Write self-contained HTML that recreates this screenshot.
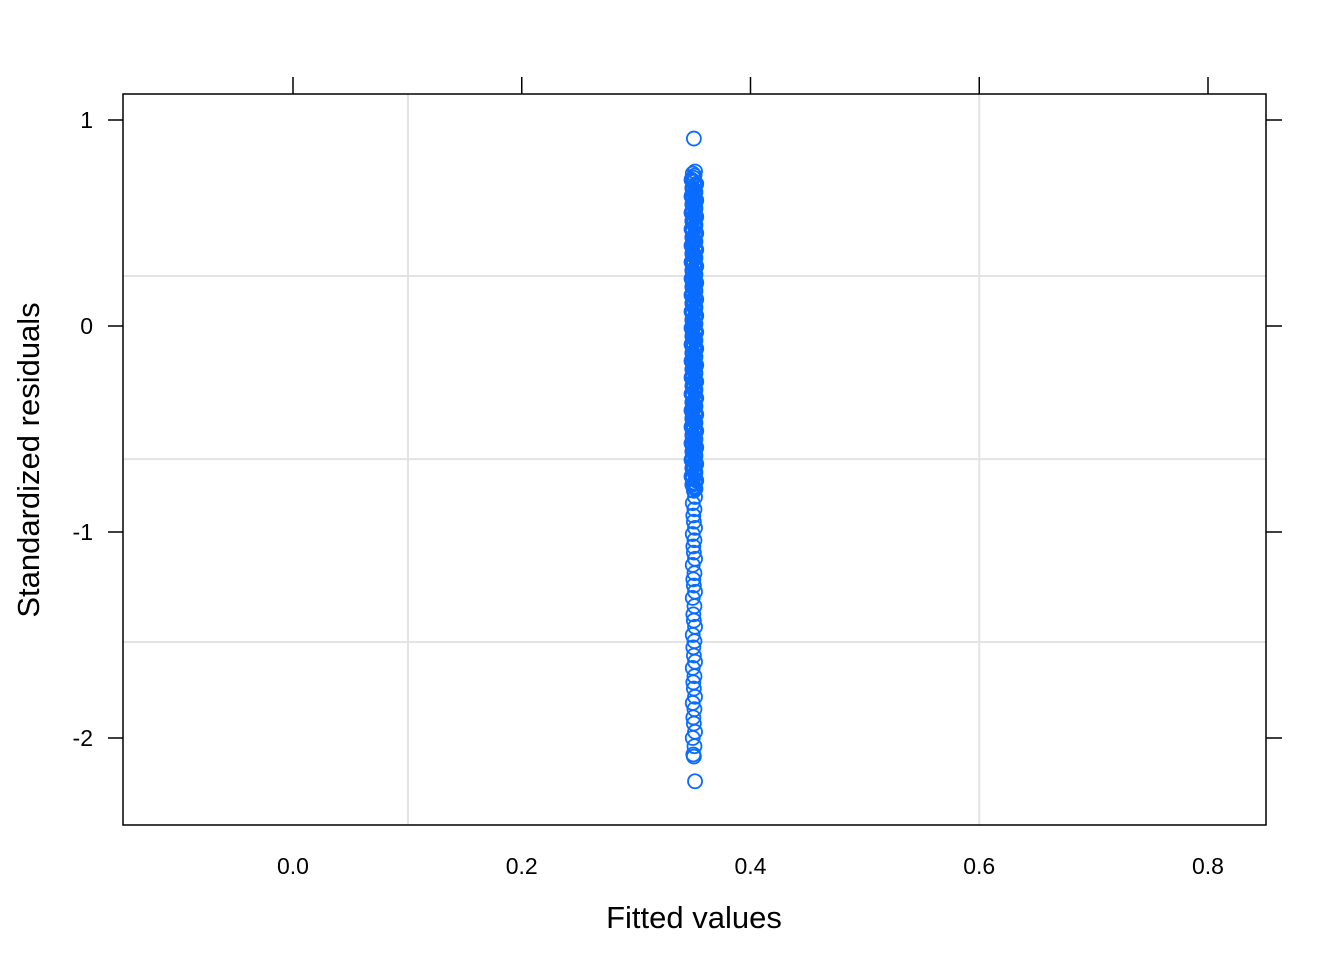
<!DOCTYPE html>
<html><head><meta charset="utf-8"><style>
html,body{margin:0;padding:0;background:#fff;}
svg{display:block;font-family:"Liberation Sans",Arial,sans-serif;}
</style></head><body>
<svg id="chart" width="1344" height="960" viewBox="0 0 1344 960" xmlns="http://www.w3.org/2000/svg">
<g id="grid"></g>
<g id="points"></g>
<rect x="123" y="94" width="1143" height="731" fill="none" stroke="#000" stroke-width="1.5"/>
<g id="axes"></g>
<text x="694" y="928" font-size="31" text-anchor="middle">Fitted values</text>
<text transform="translate(39,460) rotate(-90)" font-size="31" text-anchor="middle">Standardized residuals</text>
</svg>
<script>
const xTicks = [0.0, 0.2, 0.4, 0.6, 0.8];
const xTickLabels = ["0.0", "0.2", "0.4", "0.6", "0.8"];
const yTicks = [1, 0, -1, -2];
const yTickLabels = ["1", "0", "-1", "-2"];
const xGrid = [0.1005, 0.6];
const yGrid = [0.243, -0.646, -1.534];
const fitted = [0.3505, 0.3515, 0.3495, 0.351, 0.350];
const residuals = [0.91,
0.75,0.74,0.73,0.72,0.70,0.68,0.66,0.64,0.62,0.60,0.58,0.56,0.54,0.52,0.50,0.48,0.46,0.44,0.42,0.40,
0.38,0.36,0.34,0.32,0.30,0.28,0.26,0.24,0.22,0.20,0.18,0.16,0.14,0.12,0.10,0.08,0.06,0.04,0.02,0.00,
-0.02,-0.04,-0.06,-0.08,-0.10,-0.12,-0.14,-0.16,-0.18,-0.20,-0.22,-0.24,-0.26,-0.28,-0.30,-0.32,-0.34,
-0.36,-0.38,-0.40,-0.42,-0.44,-0.46,-0.48,-0.50,-0.52,-0.54,-0.56,-0.58,-0.60,-0.62,-0.64,-0.66,-0.68,
-0.70,-0.72,-0.74,-0.76,-0.78,-0.80,-0.83,-0.86,-0.89,-0.92,-0.95,-0.98,-1.01,-1.04,-1.07,-1.10,-1.13,
-1.16,-1.20,-1.23,-1.26,-1.29,-1.32,-1.36,-1.40,-1.43,-1.46,-1.50,-1.53,-1.56,-1.60,-1.63,-1.66,-1.70,
-1.73,-1.76,-1.80,-1.83,-1.86,-1.90,-1.93,-1.97,-2.00,-2.04,-2.08,-2.09,-2.21];
const residualsDense = [0.71,0.69,0.67,0.65,0.63,0.61,0.59,0.57,0.55,0.53,0.51,0.49,0.47,0.45,0.43,0.41,
0.39,0.37,0.35,0.33,0.31,0.29,0.27,0.25,0.23,0.21,0.19,0.17,0.15,0.13,0.11,0.09,0.07,0.05,0.03,0.01,
-0.01,-0.03,-0.05,-0.07,-0.09,-0.11,-0.13,-0.15,-0.17,-0.19,-0.21,-0.23,-0.25,-0.27,-0.29,-0.31,-0.33,
-0.35,-0.37,-0.39,-0.41,-0.43,-0.45,-0.47,-0.49,-0.51,-0.53,-0.55,-0.57,-0.59,-0.61,-0.63,-0.65,-0.67,
-0.69,-0.71,-0.73,-0.75,-0.77,-0.79];
const fittedDense = [0.3485, 0.3525, 0.3492, 0.3518];
const X0 = 293, XS = 1143.75, Y0 = 326, YS = 206;
const L = 123, R = 1266, T = 94, B = 825;
function sx(v){ return X0 + v * XS; }
function sy(v){ return Y0 - v * YS; }
const NS = "http://www.w3.org/2000/svg";
function mk(tag, attrs, parent){ const e = document.createElementNS(NS, tag); for (const k in attrs) e.setAttribute(k, attrs[k]); parent.appendChild(e); return e; }
const grid = document.getElementById('grid');
xGrid.forEach(v => {
  const l = mk('line', {x1: sx(v), x2: sx(v), y1: T, y2: B, stroke: '#e3e3e3', 'stroke-width': 2}, grid);
  
  
});
yGrid.forEach(v => {
  const l = mk('line', {x1: L, x2: R, y1: sy(v), y2: sy(v), stroke: '#e3e3e3', 'stroke-width': 2}, grid);
  
  
});
const axes = document.getElementById('axes');
xTicks.forEach((v, i) => {
  const t = mk('line', {x1: sx(v), x2: sx(v), y1: 77, y2: T, stroke: '#000', 'stroke-width': 1.5}, axes);
  
  
  const tx = mk('text', {x: sx(v), y: 874, 'font-size': 23, 'text-anchor': 'middle'}, axes);
  tx.textContent = xTickLabels[i];
  
  
});
yTicks.forEach((v, i) => {
  const t1 = mk('line', {x1: 108, x2: L, y1: sy(v), y2: sy(v), stroke: '#000', 'stroke-width': 1.5}, axes);
  
  
  const t2 = mk('line', {x1: R, x2: 1282, y1: sy(v), y2: sy(v), stroke: '#000', 'stroke-width': 1.5}, axes);
  
  
  const tx = mk('text', {x: 93, y: sy(v) + 8, 'font-size': 23, 'text-anchor': 'end'}, axes);
  tx.textContent = yTickLabels[i];
  
  
});
const pts = document.getElementById('points');
residuals.forEach((r, i) => {
  const c = mk('circle', {cx: sx(fitted[i % fitted.length]), cy: sy(r), r: 7, fill: 'none', stroke: '#0a6cff', 'stroke-width': 1.8}, pts);
  
  
});
residualsDense.forEach((r, i) => {
  const c = mk('circle', {cx: sx(fittedDense[i % fittedDense.length]), cy: sy(r), r: 6.5, fill: 'none', stroke: '#0a6cff', 'stroke-width': 3}, pts);
  
  
});
</script>
</body></html>
